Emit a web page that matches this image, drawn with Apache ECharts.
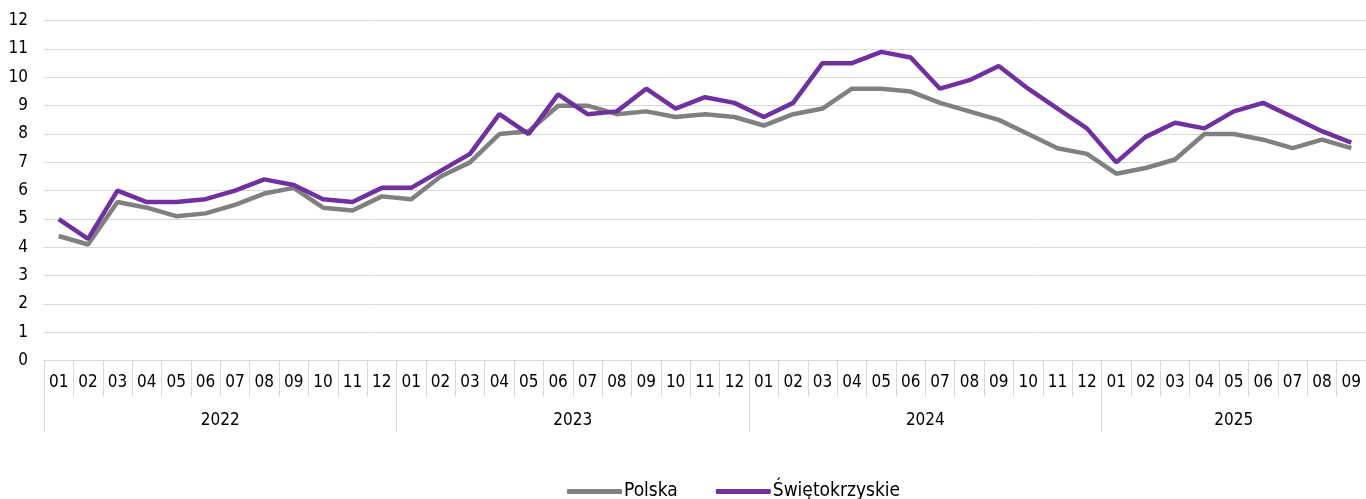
<!DOCTYPE html>
<html>
<head>
<meta charset="utf-8">
<script src="https://cdn.jsdelivr.net/npm/echarts@6/dist/echarts.min.js"></script>
<style>
html,body{margin:0;padding:0;background:#fff;}
#chart{width:1366px;height:499px;}
</style>
</head>
<body>
<div id="chart"></div>
<script>
const months = ['01','02','03','04','05','06','07','08','09','10','11','12',
  '01','02','03','04','05','06','07','08','09','10','11','12',
  '01','02','03','04','05','06','07','08','09','10','11','12',
  '01','02','03','04','05','06','07','08','09'];
const years = ['2022','2023','2024','2025'];
const yearCenters = [5.5, 17.5, 29.5, 40];
const yearBounds = [-0.5, 11.5, 23.5, 35.5];
const polska = [4.4,4.1,5.6,5.4,5.1,5.2,5.5,5.9,6.1,5.4,5.3,5.8,
  5.7,6.5,7.0,8.0,8.1,9.0,9.0,8.7,8.8,8.6,8.7,8.6,
  8.3,8.7,8.9,9.6,9.6,9.5,9.1,8.8,8.5,8.0,7.5,7.3,
  6.6,6.8,7.1,8.0,8.0,7.8,7.5,7.8,7.5];
const swietokrzyskie = [5.0,4.3,6.0,5.6,5.6,5.7,6.0,6.4,6.2,5.7,5.6,6.1,
  6.1,6.7,7.3,8.7,8.0,9.4,8.7,8.8,9.6,8.9,9.3,9.1,
  8.6,9.1,10.5,10.5,10.9,10.7,9.6,9.9,10.4,9.6,8.9,8.2,
  7.0,7.9,8.4,8.2,8.8,9.1,8.6,8.1,7.7];
const seriesNames = ['Polska','Świętokrzyskie'];

const FONT = "'Liberation Sans Narrow','DejaVu Sans Condensed','Noto Sans',sans-serif";
const chart = echarts.init(document.getElementById('chart'), null, {renderer:'canvas'});
chart.setOption({
  animation:false,
  textStyle:{fontFamily:FONT},
  grid:{left:44,right:0,top:20.7,bottom:138.3,containLabel:false},
  legend:{
    left:567, top:482, padding:0, itemWidth:55, itemHeight:5, itemGap:38,
    icon:'roundRect',
    textStyle:{fontFamily:FONT,fontSize:19,color:'#000',padding:[0,0,0,-3]},
    data:seriesNames
  },
  xAxis:[{
    type:'category', data:months, boundaryGap:true,
    axisLine:{lineStyle:{color:'#d9d9d9',width:1}},
    axisTick:{show:true,interval:0,length:36,lineStyle:{color:'#d9d9d9'}},
    axisLabel:{interval:0,margin:13,fontSize:17,color:'#000',fontFamily:FONT},
    splitLine:{show:false}
  },{
    type:'value', min:-0.5, max:44.5, position:'bottom',
    axisLine:{show:false},
    axisTick:{show:true,length:71,customValues:yearBounds,lineStyle:{color:'#d9d9d9'}},
    axisLabel:{customValues:yearCenters,margin:51,fontSize:17,color:'#000',fontFamily:FONT,
      formatter:function(v){const i=yearCenters.indexOf(v);return i>=0?years[i]:'';}},
    splitLine:{show:false}
  }],
  yAxis:{
    type:'value', min:0, max:12, interval:1,
    axisLine:{show:false}, axisTick:{show:false},
    axisLabel:{margin:16,fontSize:17,color:'#000',fontFamily:FONT},
    splitLine:{lineStyle:{color:'#d9d9d9',width:1}}
  },
  series:[{
    name:seriesNames[0], type:'line', data:polska, xAxisIndex:0,
    symbol:'none', lineStyle:{color:'#808080',width:4.5}, itemStyle:{color:'#808080'}
  },{
    name:seriesNames[1], type:'line', data:swietokrzyskie, xAxisIndex:0,
    symbol:'none', lineStyle:{color:'#7030a0',width:4.5}, itemStyle:{color:'#7030a0'}
  }]
});
</script>
</body>
</html>
